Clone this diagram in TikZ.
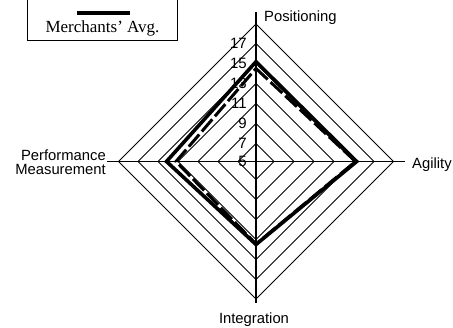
\documentclass[tikz,border=0pt]{standalone}
\usepackage{fontspec}
\setmainfont{Liberation Sans}
\newfontfamily\timesf{Liberation Serif}
\begin{document}
\begin{tikzpicture}[x=1pt,y=-1pt,
  gridline/.style={line width=0.9pt},
  axisline/.style={line width=1.1pt},
  avg/.style={line width=3.6pt, line join=miter},
  other/.style={line width=3pt, line join=miter, dash pattern=on 16pt off 4pt},
  lab/.style={font=\fontsize{14.8}{14.3}\selectfont, inner sep=0pt},
  ticklab/.style={font=\fontsize{15}{15}\selectfont, inner sep=0pt, anchor=east}]
\useasboundingbox (0,0) rectangle (453,328);
% rings
\foreach \r in {18,38,58,78,98,118,137.5}
  \draw[gridline,shift={(256,161.5)}] (0,-\r) -- (\r,0) -- (0,\r) -- (-\r,0) -- cycle;
% axes
\coordinate (atop) at (256,12);
\coordinate (abot) at (256,303);
\coordinate (aleft) at (107,161.5);
\coordinate (aright) at (405,161.5);
\draw[axisline] (atop) -- (abot);
\draw[axisline] (aleft) -- (aright);
% tick labels
\foreach \v/\r in {5/0,7/18,9/38,11/58,13/78,15/98,17/118}
  \node[ticklab] (t\v) at (247,161.5-\r) {\v};
% data: other series (dashed)
\coordinate (dT) at (256,68.5);
\coordinate (dR) at (355.5,161.5);
\coordinate (dB) at (256,244);
\coordinate (dL) at (176,161.5);
\draw[other] (dT) -- (dR) -- (dB) -- (dL) -- cycle;
% data: Merchants' Avg (solid)
\coordinate (sT) at (256,61.7);
\coordinate (sR) at (356.7,161.5);
\coordinate (sB) at (256,244.5);
\coordinate (sL) at (166.5,161.5);
\draw[avg] (sT) -- (sR) -- (sB) -- (sL) -- cycle;
% axis labels
\node[lab, anchor=base west] (pos) at (264,21.5) {Positioning};
\node[lab, anchor=base west] (agi) at (412,169) {Agility};
\node[lab, anchor=base] (int) at (254,324) {Integration};
\node[lab, anchor=base east, align=right] (perf) at (106,175) {Performance\\Measurement};
% legend
\node[draw, line width=0.9pt, minimum width=150pt, minimum height=60pt, anchor=south west, inner sep=0pt] (legbox) at (27,41.3) {};
\coordinate (la) at (77,12.7);
\coordinate (lb) at (130,12.7);
\draw[line width=4pt] (la) -- (lb);
\node[font=\timesf\fontsize{17}{17}\selectfont, anchor=base, inner sep=0pt] (legtext) at (102.5,33) {Merchants’ Avg.};
\end{tikzpicture}
\end{document}
